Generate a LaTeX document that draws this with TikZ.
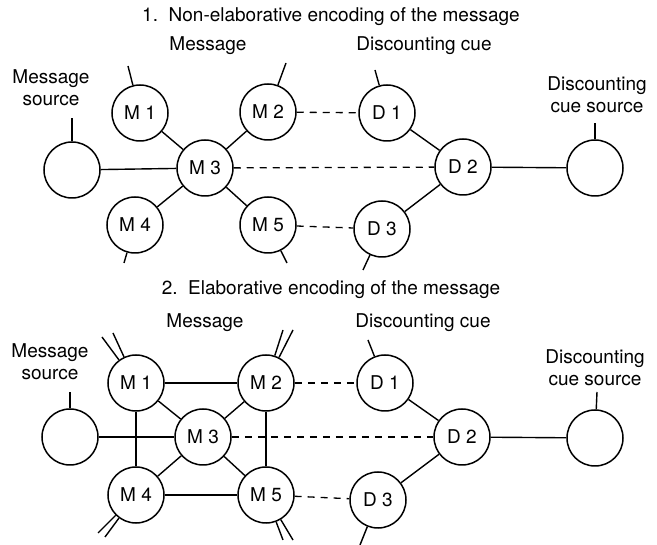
\documentclass[tikz,border=0pt]{standalone}
\usepackage{fontspec}
\setmainfont{TeX Gyre Heros}
\usepackage{tikz}
\usepackage{xcolor}
\tikzstyle{Unit}=[x=1pt,y=-1pt]
\tikzstyle{NodeCircle}=[circle,draw=black,line width=1.5pt,minimum size=56pt,inner sep=0pt,
font=\fontsize{19}{22}\selectfont]
\tikzstyle{LabelText}=[align=center,font=\fontsize{19}{22}\selectfont]
\tikzstyle{EdgeSolid}=[black,line width=1.4pt]
\tikzstyle{EdgeDashed}=[black,line width=1.3pt,dash pattern=on 7pt off 6pt]
\tikzstyle{StubLine}=[black,line width=1.4pt]

\begin{document}
\begin{tikzpicture}[Unit]
        \useasboundingbox(0,0)rectangle(657,545);
        % 1. non-elaborative
        \node[LabelText](t1)at(331,17){1.\ \ Non-elaborative encoding of the message};
        \node[LabelText](lm1)at(208,46){Message};
        \node[LabelText](ld1)at(424,46){Discounting cue};
        \node[LabelText](ls1)at(51,88){Message\\source};
        \node[LabelText](lc1)at(597,95){Discounting\\cue source};
        \node[NodeCircle](s1)at(72,170){};
        \node[NodeCircle](a1)at(140,113){M 1};
        \node[NodeCircle](a2)at(268,112){M 2};
        \node[NodeCircle](a3)at(205,168){M 3};
        \node[NodeCircle](a4)at(135,225){M 4};
        \node[NodeCircle](a5)at(268,225){M 5};
        \node[NodeCircle](b1)at(387,113){D 1};
        \node[NodeCircle](b2)at(463,167){D 2};
        \node[NodeCircle](b3)at(382,229){D 3};
        \node[NodeCircle](c1)at(595,168){};
        \draw[EdgeSolid](s1)--(a3);
        \draw[EdgeSolid](a1)--(a3);
        \draw[EdgeSolid](a2)--(a3);
        \draw[EdgeSolid](a4)--(a3);
        \draw[EdgeSolid](a5)--(a3);
        \draw[EdgeSolid](b1)--(b2);
        \draw[EdgeSolid](b3)--(b2);
        \draw[EdgeSolid](b2)--(c1);
        \draw[EdgeDashed](a2)--(b1);
        \draw[EdgeDashed](a3)--(b2);
        \draw[EdgeDashed](a5)--(b3);
        \coordinate(us1)at(72,118);
        \coordinate(ua1)at(128,66);
        \coordinate(ua2)at(286,63);
        \coordinate(ua4)at(124,263);
        \coordinate(ua5)at(287,263);
        \coordinate(ub1)at(375,70);
        \coordinate(ub3)at(363,270);
        \coordinate(uc1)at(595,123);
        \foreach \n in {s1,a1,a2,a4,a5,b1,b3,c1}
            \draw[StubLine](\n)--(u\n);
        % 2. elaborative
        \node[LabelText](t2)at(331,290){2.\ \ Elaborative encoding of the message};
        \node[LabelText](lm2)at(205,323){Message};
        \node[LabelText](ld2)at(423,323){Discounting cue};
        \node[LabelText](ls2)at(50,362){Message\\source};
        \node[LabelText](lc2)at(595,368){Discounting\\cue source};
        \node[NodeCircle](s2)at(70,437){};
        \node[NodeCircle](m1)at(136,383){M 1};
        \node[NodeCircle](m2)at(266,383){M 2};
        \node[NodeCircle](m3)at(203,437){M 3};
        \node[NodeCircle](m4)at(136,495){M 4};
        \node[NodeCircle](m5)at(266,495){M 5};
        \node[NodeCircle](d1)at(385,383){D 1};
        \node[NodeCircle](d2)at(462,437){D 2};
        \node[NodeCircle](d3)at(378,500){D 3};
        \node[NodeCircle](c2)at(595,438){};
        \draw[EdgeSolid](s2)--(m3);
        \draw[EdgeSolid](m1)--(m2);
        \draw[EdgeSolid](m4)--(m5);
        \draw[EdgeSolid](m1)--(m4);
        \draw[EdgeSolid](m2)--(m5);
        \foreach \n in {m1,m2,m4,m5}
            \draw[EdgeSolid](\n)--(m3);
        \draw[EdgeSolid](d1)--(d2);
        \draw[EdgeSolid](d3)--(d2);
        \draw[EdgeSolid](d2)--(c2);
        \draw[EdgeDashed](m2)--(d1);
        \draw[EdgeDashed](m3)--(d2);
        \draw[EdgeDashed](m5)--(d3);
        \coordinate(vs2)at(70,392);
        \coordinate(vd1)at(368,340);
        \coordinate(vd3)at(360,545);
        \coordinate(vc2)at(597,392);
        \foreach \n in {s2,d1,d3,c2}
            \draw[StubLine](\n)--(v\n);
        % double stubs
        \coordinate(vm1a)at(102,337);
        \coordinate(vm1b)at(113,333);
        \coordinate(vm2a)at(283,330);
        \coordinate(vm2b)at(293,330);
        \coordinate(vm4a)at(98,533);
        \coordinate(vm4b)at(105,537);
        \coordinate(vm5a)at(283,540);
        \coordinate(vm5b)at(293,540);
        \foreach \n in {m1,m2,m4,m5}{
            \draw[StubLine](\n)--(v\n a);
            \draw[StubLine](\n)--(v\n b);}
    \end{tikzpicture}
\end{document}
